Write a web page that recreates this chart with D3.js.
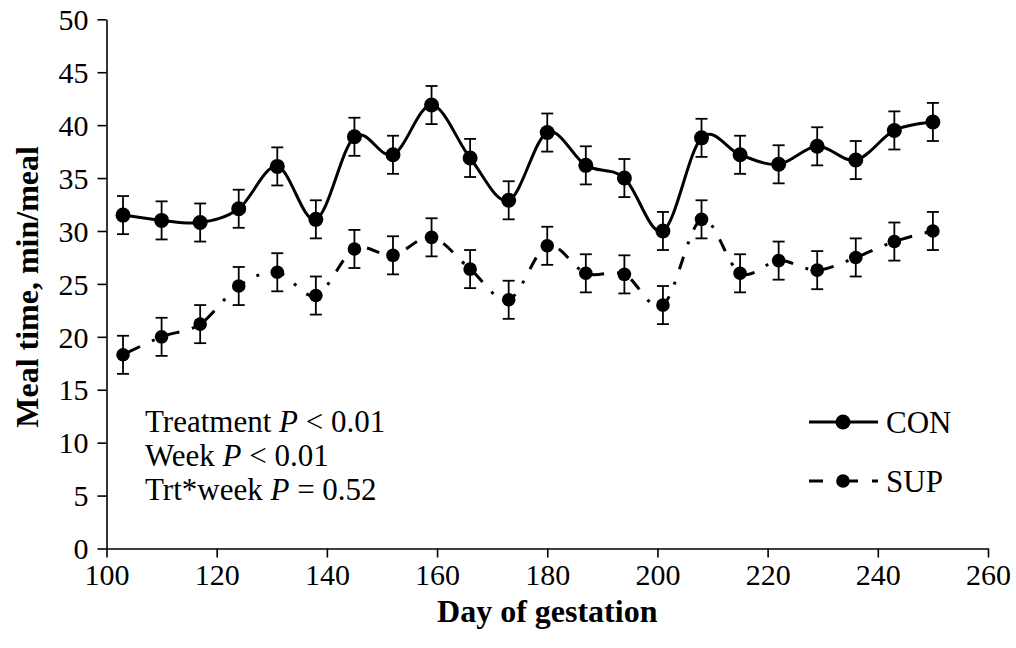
<!DOCTYPE html>
<html>
<head>
<meta charset="utf-8">
<script src="https://cdn.jsdelivr.net/npm/d3@7/dist/d3.min.js"></script>
<style>
  html, body { margin: 0; padding: 0; background: #fff; }
  svg { display: block; }
  text { font-family: "Liberation Serif", "Times New Roman", serif; fill: #000; }
</style>
</head>
<body>
<svg id="chart" width="1016" height="648"></svg>
<script>
// Day of gestation for each weekly measurement
const days = [103, 110, 117, 124, 131, 138, 145, 152, 159, 166, 173,
              180, 187, 194, 201, 208, 215, 222, 229, 236, 243, 250];
// Meal time (min/meal), control group
const conValues = [31.5, 31.0, 30.8, 32.1, 36.1, 31.1, 38.9, 37.2, 41.9, 36.9, 32.9,
                   39.3, 36.2, 35.0, 30.0, 38.8, 37.2, 36.3, 38.0, 36.7, 39.5, 40.3];
// Meal time (min/meal), supplemented group
const supValues = [18.3, 20.0, 21.2, 24.8, 26.1, 23.9, 28.3, 27.7, 29.4, 26.4, 23.5,
                   28.6, 26.0, 25.9, 23.0, 31.1, 26.0, 27.2, 26.3, 27.5, 29.0, 30.0];
// Standard errors
const conSE = [1.8, 1.8, 1.8, 1.8, 1.8, 1.8, 1.8, 1.8, 1.8, 1.8, 1.8,
               1.8, 1.8, 1.8, 1.8, 1.8, 1.8, 1.8, 1.8, 1.8, 1.8, 1.8];
const supSE = [1.8, 1.8, 1.8, 1.8, 1.8, 1.8, 1.8, 1.8, 1.8, 1.8, 1.8,
               1.8, 1.8, 1.8, 1.8, 1.8, 1.8, 1.8, 1.8, 1.8, 1.8, 1.8];
// Axis ticks
const xTicks = [100, 120, 140, 160, 180, 200, 220, 240, 260];
const yTicks = [0, 5, 10, 15, 20, 25, 30, 35, 40, 45, 50];
// Statistics annotation
const statLines = [
  ["Treatment ", "P", " < 0.01"],
  ["Week ", "P", " < 0.01"],
  ["Trt*week ", "P", " = 0.52"]
];

const FONT = '"Liberation Serif", "Times New Roman", serif';
const svg = d3.select("#chart");
const x = d3.scaleLinear().domain([100, 260]).range([106.5, 988]);
const y = d3.scaleLinear().domain([0, 50]).range([548.5, 19.3]);

// Axes
const xAxis = d3.axisBottom(x).tickValues(xTicks).tickSize(9).tickPadding(6).tickSizeOuter(0);
const yAxis = d3.axisLeft(y).tickValues(yTicks).tickSize(9).tickPadding(9).tickSizeOuter(0);

const gx = svg.append("g").attr("transform", `translate(0,${y(0)})`).call(xAxis);
const gy = svg.append("g").attr("transform", `translate(${x(100)},0)`).call(yAxis);
[gx, gy].forEach(g => {
  g.select(".domain").attr("stroke", "#000").attr("stroke-width", 1.6);
  g.selectAll(".tick line").attr("stroke", "#000").attr("stroke-width", 1.6);
  g.selectAll(".tick text")
    .style("font-family", FONT)
    .style("font-size", "30px").attr("fill", "#000");
});
gy.selectAll(".tick text").attr("dy", "0.34em");
gx.selectAll(".tick text").attr("dy", "0.72em");

// Axis titles
svg.append("text")
  .attr("x", x(180)).attr("y", 622)
  .attr("text-anchor", "middle")
  .style("font-size", "32px").style("font-weight", "bold")
  .text("Day of gestation");
svg.append("text")
  .attr("transform", `translate(38,${y(25) + 3}) rotate(-90)`)
  .attr("text-anchor", "middle")
  .style("font-size", "32px").style("font-weight", "bold")
  .text("Meal time, min/meal");

const curve = d3.curveCardinal.tension(0);
const line = d3.line().x(d => x(d[0])).y(d => y(d[1])).curve(curve);

function drawSeries(vals, se, opts) {
  const pts = days.map((d, i) => [d, vals[i], se[i]]);
  const g = svg.append("g");
  // error bars
  const eb = g.append("g").attr("stroke", "#000").attr("stroke-width", 1.8).attr("fill", "none");
  pts.forEach(p => {
    const cx = x(p[0]);
    eb.append("line").attr("x1", cx).attr("x2", cx).attr("y1", y(p[1] - p[2])).attr("y2", y(p[1] + p[2]));
    eb.append("line").attr("x1", cx - 6).attr("x2", cx + 6).attr("y1", y(p[1] + p[2])).attr("y2", y(p[1] + p[2]));
    eb.append("line").attr("x1", cx - 6).attr("x2", cx + 6).attr("y1", y(p[1] - p[2])).attr("y2", y(p[1] - p[2]));
  });
  g.append("path")
    .attr("d", line(pts))
    .attr("fill", "none").attr("stroke", "#000")
    .attr("stroke-width", 3)
    .attr("stroke-dasharray", opts.dash || null)
    .attr("stroke-dashoffset", opts.dashOffset || 0);
  g.selectAll("circle").data(pts).join("circle")
    .attr("cx", p => x(p[0])).attr("cy", p => y(p[1]))
    .attr("r", opts.r).attr("fill", "#000");
}

drawSeries(conValues, conSE, { r: 7.5 });
drawSeries(supValues, supSE, { r: 6.8, dash: "13,13,3,13", dashOffset: -6 });

// Statistics annotation
const stat = svg.append("text").style("font-size", "31px");
statLines.forEach((parts, i) => {
  const t = stat.append("tspan").attr("x", 145).attr("y", 432 + i * 34);
  t.append("tspan").text(parts[0]);
  t.append("tspan").style("font-style", "italic").text(parts[1]);
  t.append("tspan").text(parts[2]);
});

// Legend
const legend = [
  { name: "CON", y: 422, r: 7.5, dash: null },
  { name: "SUP", y: 481, r: 6.8, dash: "14,20,15" }
];
legend.forEach(l => {
  svg.append("line")
    .attr("x1", 809).attr("x2", 878).attr("y1", l.y).attr("y2", l.y)
    .attr("stroke", "#000").attr("stroke-width", 3)
    .attr("stroke-dasharray", l.dash);
  svg.append("circle").attr("cx", 843).attr("cy", l.y).attr("r", l.r).attr("fill", "#000");
  svg.append("text").attr("x", 886).attr("y", l.y).attr("dy", "0.34em")
    .style("font-size", "31px").text(l.name);
});
</script>
</body>
</html>
